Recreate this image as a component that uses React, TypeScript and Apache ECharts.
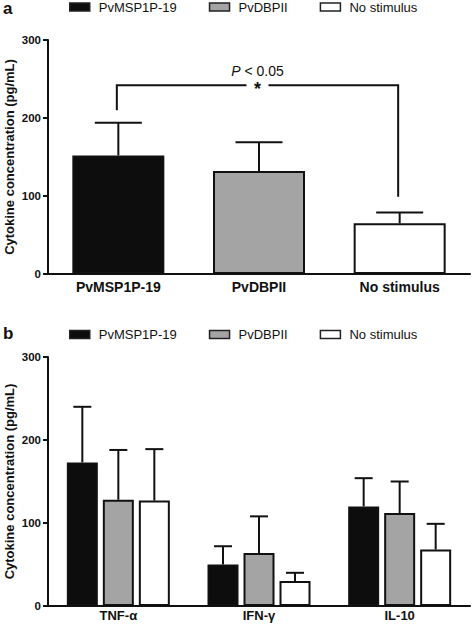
import React, { useEffect, useRef } from 'react';
import * as echarts from 'echarts';

const FONT = '"Liberation Sans", Arial, Helvetica, sans-serif';
const INK = '#111111';

// ---- data ----
const seriesNames = ['PvMSP1P-19', 'PvDBPII', 'No stimulus'];
const seriesColors = ['#0d0d0d', '#a4a4a4', '#ffffff'];

const panelACategories = ['PvMSP1P-19', 'PvDBPII', 'No stimulus'];
const panelAMeans = [152, 132, 65];
const panelAErrorTops = [194, 169, 79];

const panelBCategories = ['TNF-α', 'IFN-γ', 'IL-10'];
const pvmspMeans = [173, 50, 120];
const pvmspErrorTops = [240, 72, 154];
const pvdbpMeans = [128, 64, 112];
const pvdbpErrorTops = [188, 108, 150];
const noStimMeans = [127, 30, 68];
const noStimErrorTops = [189, 40, 99];

const yMin = 0;
const yMax = 300;
const yInterval = 100;
const yAxisTitle = 'Cytokine concentration (pg/mL)';

const bracketCategories = [0, 2];
const bracketLevels = [210, 242, 99]; // left leg bottom, bar height, right leg bottom
const bracketLabel = 'P < 0.05';
const bracketMark = '*';

export default function App() {
  const ref = useRef<HTMLDivElement>(null);

  useEffect(() => {
    const chart = echarts.init(ref.current!, null, { renderer: 'svg' });

    const lineStyle = { color: INK, width: 2 };
    const makeX = (gridIndex: number, data: string[], fontSize: number, margin: number) => ({
      type: 'category',
      gridIndex,
      data,
      axisLine: { lineStyle },
      axisTick: { alignWithLabel: true, length: 4, lineStyle },
      axisLabel: { fontFamily: FONT, fontWeight: 'bold', fontSize, color: INK, margin },
    });
    const makeY = (gridIndex: number) => ({
      type: 'value',
      gridIndex,
      min: yMin,
      max: yMax,
      interval: yInterval,
      splitLine: { show: false },
      axisLine: { show: true, lineStyle },
      axisTick: { show: true, length: 5, lineStyle },
      axisLabel: { fontFamily: FONT, fontWeight: 'bold', fontSize: 11.5, color: INK, margin: 7 },
      name: yAxisTitle,
      nameLocation: 'middle',
      nameGap: 32,
      nameMoveOverlap: false,
      nameTextStyle: { fontFamily: FONT, fontWeight: 'bold', fontSize: 13, color: INK },
    });

    const barsA = seriesNames.map((name, i) => ({
      type: 'bar',
      name,
      xAxisIndex: 0,
      yAxisIndex: 0,
      data: panelAMeans.map((v, j) => (j === i ? v : '-')),
      barWidth: 92,
      barGap: '-100%',
      itemStyle: { color: seriesColors[i], borderColor: INK, borderWidth: 2 },
      z: 2,
    }));

    const bMeans = [pvmspMeans, pvdbpMeans, noStimMeans];
    const bErr = [pvmspErrorTops, pvdbpErrorTops, noStimErrorTops];
    const barW = 31;
    const gapPx = 5;
    const barsB = seriesNames.map((name, i) => ({
      type: 'bar',
      name,
      xAxisIndex: 1,
      yAxisIndex: 1,
      data: bMeans[i],
      barWidth: barW,
      barGap: `${(gapPx / barW) * 100}%`,
      itemStyle: { color: seriesColors[i], borderColor: INK, borderWidth: 2 },
      z: 2,
    }));

    const errA = {
      type: 'custom',
      xAxisIndex: 0,
      yAxisIndex: 0,
      silent: true,
      z: 3,
      data: panelAMeans.map((m, i) => [i, m, panelAErrorTops[i]]),
      renderItem: (_p: any, api: any) => {
        const base = api.coord([api.value(0), api.value(1)]);
        const top = api.coord([api.value(0), api.value(2)]);
        const half = 23.5;
        const st = { stroke: INK, lineWidth: 2 };
        return {
          type: 'group',
          children: [
            { type: 'line', shape: { x1: base[0], y1: base[1], x2: base[0], y2: top[1] }, style: st },
            { type: 'line', shape: { x1: base[0] - half, y1: top[1], x2: base[0] + half, y2: top[1] }, style: st },
          ],
        };
      },
    };

    const errBData: number[][] = [];
    bMeans.forEach((arr, k) => arr.forEach((m, i) => errBData.push([i, m, bErr[k][i], k])));
    const errB = {
      type: 'custom',
      xAxisIndex: 1,
      yAxisIndex: 1,
      silent: true,
      z: 3,
      data: errBData,
      renderItem: (_p: any, api: any) => {
        const k = api.value(3);
        const off = (k - 1) * (barW + gapPx);
        const base = api.coord([api.value(0), api.value(1)]);
        const top = api.coord([api.value(0), api.value(2)]);
        const x = base[0] + off;
        const half = 9;
        const st = { stroke: INK, lineWidth: 2 };
        return {
          type: 'group',
          children: [
            { type: 'line', shape: { x1: x, y1: base[1], x2: x, y2: top[1] }, style: st },
            { type: 'line', shape: { x1: x - half, y1: top[1], x2: x + half, y2: top[1] }, style: st },
          ],
        };
      },
    };

    const bracket = {
      type: 'custom',
      xAxisIndex: 0,
      yAxisIndex: 0,
      silent: true,
      z: 4,
      data: [[bracketCategories[0], bracketLevels[1]]],
      renderItem: (_p: any, api: any) => {
        const l0 = api.coord([bracketCategories[0], bracketLevels[0]]);
        const lt = api.coord([bracketCategories[0], bracketLevels[1]]);
        const rt = api.coord([bracketCategories[1], bracketLevels[1]]);
        const r0 = api.coord([bracketCategories[1], bracketLevels[2]]);
        const lx = l0[0] - 1.5;
        const rx = rt[0] - 1.5;
        const y = lt[1];
        const mid = (lx + rx) / 2;
        const gap = 11;
        const st = { stroke: INK, lineWidth: 2, fill: 'none' };
        return {
          type: 'group',
          children: [
            { type: 'polyline', shape: { points: [[lx, l0[1]], [lx, y], [mid - gap, y]] }, style: st },
            { type: 'polyline', shape: { points: [[mid + gap, y], [rx, y], [rx, r0[1]]] }, style: st },
            {
              type: 'text',
              x: mid,
              y: y - 21,
              style: {
                text: bracketLabel.replace(/^P/, '{i|P}') + '\n{s|' + bracketMark + '}',
                rich: {
                  i: { fontStyle: 'italic', fontSize: 14, lineHeight: 14, fontFamily: FONT, fill: INK },
                  s: { fontSize: 18, lineHeight: 22, fontWeight: 'bold', fontFamily: FONT, fill: INK },
                },
                fontSize: 14,
                lineHeight: 14,
                fontFamily: FONT,
                fill: INK,
                align: 'center',
                verticalAlign: 'top',
              },
            },
          ],
        };
      },
    };

    const legendBase = {
      data: seriesNames,
      orient: 'horizontal',
      left: 69,
      padding: 0,
      itemWidth: 20,
      itemHeight: 8,
      itemGap: 32,
      icon: 'rect',
      selectedMode: false,
      itemStyle: { borderColor: '#222', borderWidth: 1.5 },
      textStyle: { fontFamily: FONT, fontSize: 13, color: INK, padding: [0, 0, 0, 4] },
    };

    chart.setOption({
      animation: false,
      backgroundColor: '#ffffff',
      textStyle: { fontFamily: FONT },
      grid: [
        { left: 48, top: 40, width: 422, height: 234, outerBoundsMode: 'none', containLabel: false },
        { left: 48, top: 357, width: 422, height: 249, outerBoundsMode: 'none', containLabel: false },
      ],
      legend: [
        { ...legendBase, top: 0.5 },
        { ...legendBase, top: 328 },
      ],
      xAxis: [makeX(0, panelACategories, 14, 6), makeX(1, panelBCategories, 13, 3)],
      yAxis: [makeY(0), makeY(1)],
      graphic: [
        { type: 'text', left: 3, top: 0, style: { text: 'a', fontSize: 17, lineHeight: 13, fontWeight: 'bold', fontFamily: FONT, fill: INK } },
        { type: 'text', left: 3, top: 325, style: { text: 'b', fontSize: 17, lineHeight: 13, fontWeight: 'bold', fontFamily: FONT, fill: INK } },
      ],
      series: [...barsA, ...barsB, errA, errB, bracket],
    });

    return () => chart.dispose();
  }, []);

  return (
    <div
      ref={ref}
      style={{ position: 'fixed', left: 0, top: 0, width: 472, height: 630, background: '#fff' }}
    />
  );
}
